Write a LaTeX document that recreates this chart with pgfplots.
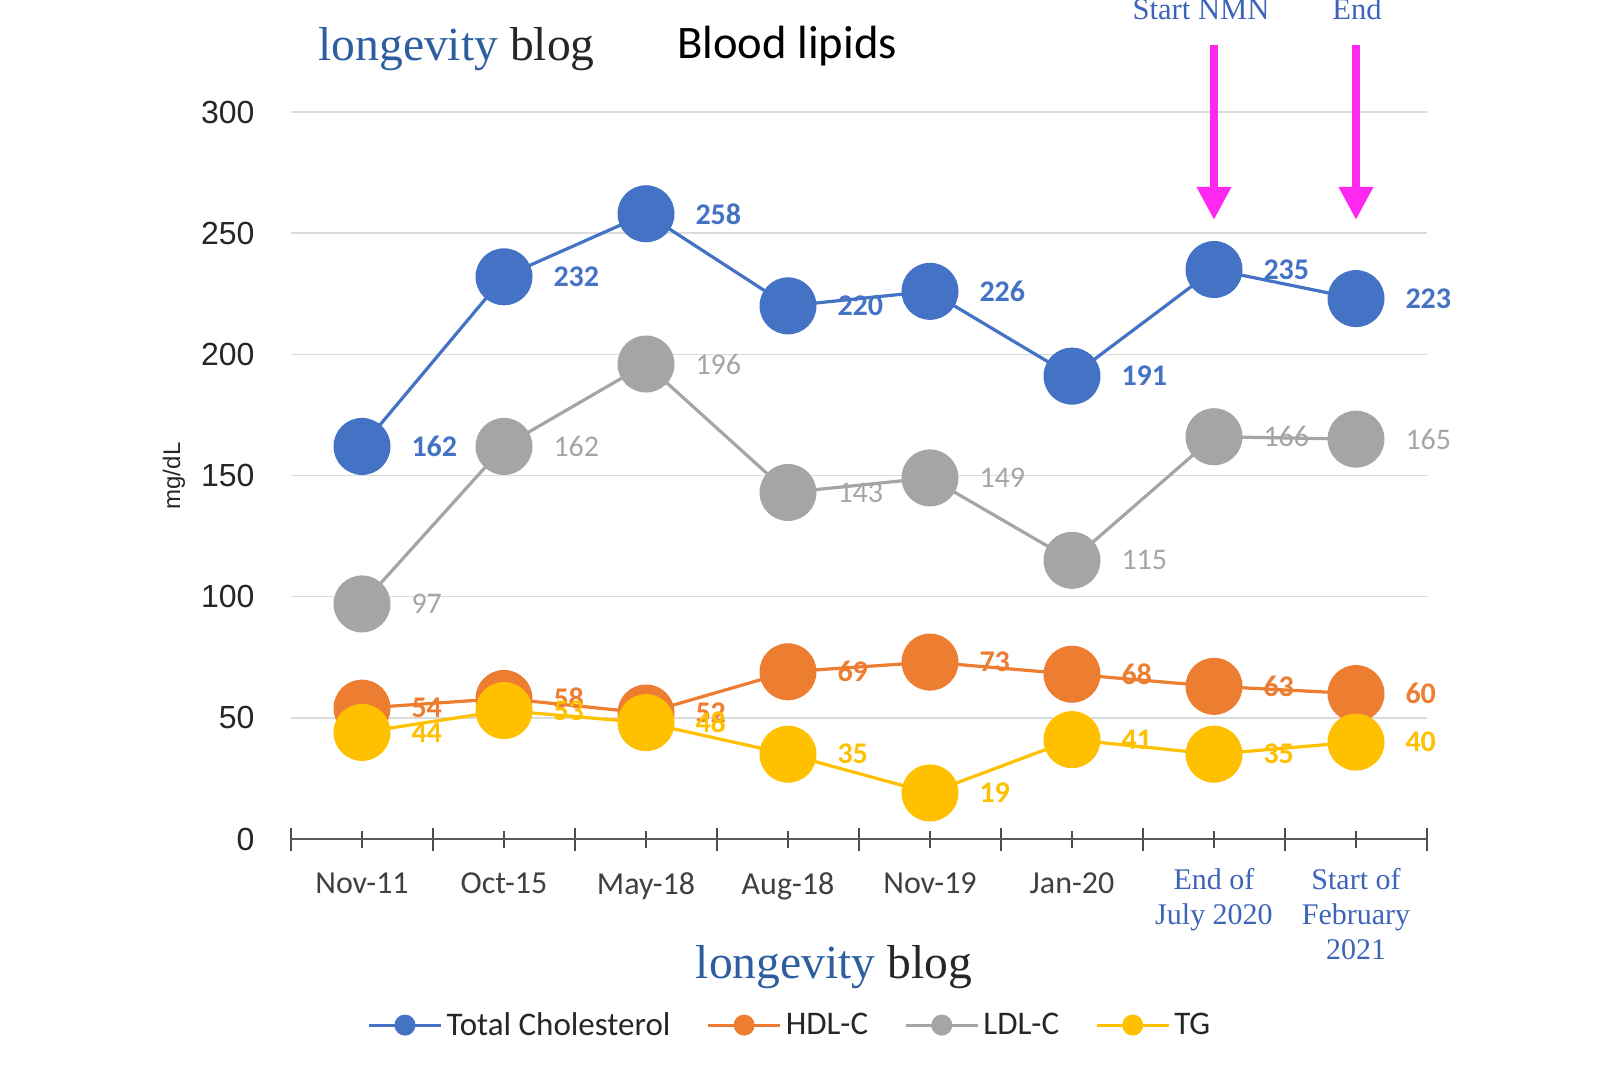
\documentclass[border=0pt]{standalone}
\usepackage{pgfplots}
\pgfplotsset{compat=1.18}
\usepackage{fontspec}
\setmainfont{Carlito}
\newfontfamily\serif{Liberation Serif}
\newfontfamily\arial{Liberation Sans}
\usetikzlibrary{arrows.meta}
\definecolor{cTot}{RGB}{68,114,196}
\definecolor{cHDL}{RGB}{237,125,49}
\definecolor{cLDL}{RGB}{165,165,165}
\definecolor{cTG}{RGB}{255,192,0}
\definecolor{lblue}{RGB}{60,100,185}
\definecolor{dblue}{RGB}{45,95,160}
\definecolor{txt}{RGB}{38,38,38}
\definecolor{mag}{RGB}{255,40,240}
\begin{document}
\begin{tikzpicture}
\useasboundingbox (0,0) rectangle (800pt,533pt);
\begin{axis}[
  at={(145.5pt,113.5pt)}, anchor=south west,
  scale only axis, width=568pt, height=363.5pt,
  xmin=-0.5, xmax=7.5, ymin=0, ymax=300,
  clip=false,
  axis lines*=left,
  y axis line style={draw=none},
  x axis line style={line width=1.2pt, color=black!65},
  ytick={0,50,...,300},
  ytick style={draw=none},
  ymajorgrids, grid style={line width=0.8pt, color=black!14},
  xtick={0,...,7},
  xticklabels={Nov-11,Oct-15,May-18,Aug-18,Nov-19,Jan-20,{},{}},
  minor xtick={-0.5,0.5,...,7.5},
  tick align=center,
  major tick length=8.5pt, minor tick length=11.5pt,
  x tick style={line width=0.9pt, color=black!70},
  xticklabel style={align=center, anchor=north, yshift=-9pt, font=\fontsize{16}{19}\selectfont, text=black!75},
  extra x ticks={6,7},
  extra x tick labels={{End of\\July 2020},{Start of\\February\\2021}},
  extra x tick style={xticklabel style={yshift=2pt, font=\serif\fontsize{15}{17.5}\selectfont, text=lblue}},
  yticklabel style={font=\arial\fontsize{16}{19}\selectfont, text=txt, xshift=-10.5pt},
  /pgf/number format/assume math mode=true,
  legend columns=4,
  legend style={at={(0.44,-0.256)}, anchor=center, draw=none, fill=none,
    font=\fontsize{16.5}{19}\selectfont, text=txt, inner sep=0pt,
    /tikz/every even column/.append style={column sep=16pt}},
  legend image code/.code={\draw[mark repeat=2,mark phase=2] plot coordinates {(0pt,0pt) (18pt,0pt) (36pt,0pt)};},
  legend image post style={mark size=5pt},
]
\addplot[color=cTot, line width=1.6pt, mark=*, mark size=14pt,
  mark options={fill=cTot, draw=cTot, line width=0.5pt},
  nodes near coords,
  every node near coord/.append style={anchor=west, xshift=24.5pt, inner sep=0pt,
    font=\bfseries\fontsize{15}{18}\selectfont, text=cTot}]
  coordinates {(0,162) (1,232) (2,258) (3,220) (4,226) (5,191) (6,235) (7,223)};
\addlegendentry{Total Cholesterol}
\addplot[color=cHDL, line width=1.6pt, mark=*, mark size=14pt,
  mark options={fill=cHDL, draw=cHDL, line width=0.5pt},
  nodes near coords,
  every node near coord/.append style={anchor=west, xshift=24.5pt, inner sep=0pt,
    font=\bfseries\fontsize{15}{18}\selectfont, text=cHDL}]
  coordinates {(0,54) (1,58) (2,52) (3,69) (4,73) (5,68) (6,63) (7,60)};
\addlegendentry{HDL-C}
\addplot[color=cLDL, line width=1.6pt, mark=*, mark size=14pt,
  mark options={fill=cLDL, draw=cLDL, line width=0.5pt},
  nodes near coords,
  every node near coord/.append style={anchor=west, xshift=24.5pt, inner sep=0pt,
    font=\fontsize{15}{18}\selectfont, text=cLDL}]
  coordinates {(0,97) (1,162) (2,196) (3,143) (4,149) (5,115) (6,166) (7,165)};
\addlegendentry{LDL-C}
\addplot[color=cTG, line width=1.6pt, mark=*, mark size=14pt,
  mark options={fill=cTG, draw=cTG, line width=0.5pt},
  nodes near coords,
  every node near coord/.append style={anchor=west, xshift=24.5pt, inner sep=0pt,
    font=\bfseries\fontsize{15}{18}\selectfont, text=cTG}]
  coordinates {(0,44) (1,53) (2,48) (3,35) (4,19) (5,41) (6,35) (7,40)};
\addlegendentry{TG}
\draw[line width=3.6pt, color=mag, -{Triangle[width=16.5pt,length=16.5pt]}] (axis cs:6,327.5) -- (axis cs:6,255.5);
\draw[line width=3.6pt, color=mag, -{Triangle[width=16.5pt,length=16.5pt]}] (axis cs:7,327.5) -- (axis cs:7,255.5);
\end{axis}
\node[anchor=base west, inner sep=0pt, font=\serif\fontsize{23.8}{27}\selectfont] at (159pt,502.5pt) {\textcolor{dblue}{longevity} \textcolor{txt}{blog}};
\node[anchor=base west, inner sep=0pt, font=\fontsize{23.3}{27}\selectfont, text=black] at (338.5pt,503.5pt) {Blood lipids};
\node[anchor=base, inner sep=0pt, font=\serif\fontsize{15.3}{18}\selectfont, text=lblue] at (600.5pt,523pt) {Start NMN};
\node[anchor=base, inner sep=0pt, font=\serif\fontsize{15.3}{18}\selectfont, text=lblue] at (678.5pt,523pt) {End};
\node[anchor=base, inner sep=0pt, font=\serif\fontsize{23.8}{27}\selectfont] at (417pt,44pt) {\textcolor{dblue}{longevity} \textcolor{txt}{blog}};
\node[rotate=90, inner sep=0pt, font=\arial\fontsize{12}{14}\selectfont, text=txt] at (87pt,295pt) {mg/dL};
\end{tikzpicture}
\end{document}
